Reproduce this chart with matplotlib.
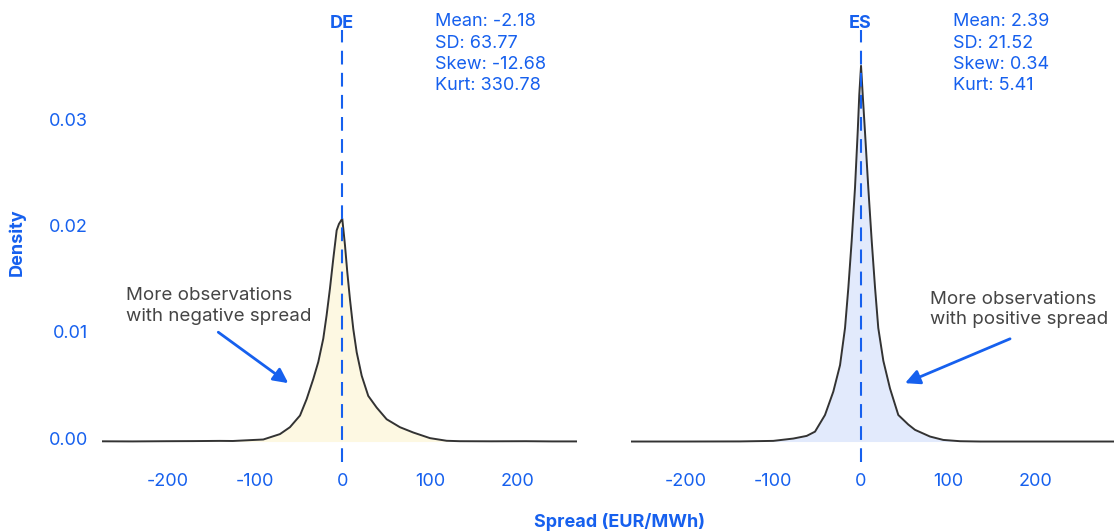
import matplotlib
matplotlib.use("Agg")
import matplotlib.pyplot as plt
import matplotlib.transforms as mtransforms

plt.rcParams['font.family'] = ['Inter', 'DejaVu Sans']

# ---------------- data ----------------
de_x = [-274.6, -240, -200, -170, -140, -125, -105.5, -90.3, -71.2, -59.8, -48.3, -40.7,
        -33.1, -27.4, -21.7, -17.9, -14.1, -10.3, -6.4, -3.8, 0.0, 3.1, 5.7, 8.8, 12.6,
        16.5, 22.2, 29.7, 39.3, 50.7, 65.9, 81.1, 100.2, 119.3, 134.5, 170, 210, 240, 267.7]
de_y = [0.00002, 0.00001, 0.00003, 0.00004, 0.00006, 0.00005, 0.00013, 0.00019, 0.0007,
        0.00135, 0.00245, 0.0040, 0.0059, 0.0075, 0.0097, 0.0119, 0.0144, 0.0172, 0.0199,
        0.0205, 0.0210, 0.0185, 0.0160, 0.0134, 0.0106, 0.0084, 0.0062, 0.0043, 0.0032,
        0.0021, 0.00135, 0.00085, 0.00032, 0.00007, 0.00003, 0.00002, 0.00003, 0.00001,
        0.00001]

es_x = [-262.3, -200, -137.7, -99.7, -76.8, -61.5, -52.0, -40.6, -31.1, -23.4, -17.7,
        -13.9, -10.1, -6.3, -3.2, -1.4, 0.6, 2.5, 5.1, 8.9, 12.8, 16.6, 20.3, 26.1, 33.7,
        43.2, 54.6, 62.3, 79.4, 94.6, 113.7, 137.0, 200, 289.7]
es_y = [0.0, 0.0, 0.00001, 0.00006, 0.00028, 0.00053, 0.00093, 0.0025, 0.0047, 0.0072,
        0.0107, 0.0145, 0.0189, 0.0239, 0.0292, 0.0327, 0.0354, 0.0327, 0.0292, 0.0239,
        0.0189, 0.0145, 0.0107, 0.0076, 0.0050, 0.0025, 0.0016, 0.0011, 0.00047, 0.00015,
        0.00003, 0.0, 0.0, 0.0]

countries = ['DE', 'ES']
stats = {
    'DE': ['Mean: -2.18', 'SD: 63.77', 'Skew: -12.68', 'Kurt: 330.78'],
    'ES': ['Mean: 2.39', 'SD: 21.52', 'Skew: 0.34', 'Kurt: 5.41'],
}
x_ticks = [-200, -100, 0, 100, 200]
x_tick_labels = ['-200', '-100', '0', '100', '200']
y_ticks = [0.00, 0.01, 0.02, 0.03]
y_tick_labels = ['0.00', '0.01', '0.02', '0.03']
annotations = {
    'DE': 'More observations\nwith negative spread',
    'ES': 'More observations\nwith positive spread',
}

# ---------------- style ----------------
BLUE = '#1660EE'
LINE = '#333333'
TEXT = '#454545'
FILLS = {'DE': '#FDF8E2', 'ES': '#E2EAFC'}
FS = 13

W, H = 1114, 531
fig = plt.figure(figsize=(W / 100, H / 100), dpi=100)

def fx(px):
    return px / W

def fy(py):
    return 1 - py / H

ax_top, ax_bot = 30, 462
axes_px = {'DE': (102, 576.5), 'ES': (631, 1114)}
xlims = {'DE': (-274.6, 267.7), 'ES': (-262.3, 289.7)}
ylim = (-0.00193, 0.03878)
curves = {'DE': (de_x, de_y), 'ES': (es_x, es_y)}

ann_pos = {
    'DE': dict(text=(-247.2, 0.01277), tail=(-141.7, 0.0103), tip=(-61.7, 0.0055)),
    'ES': dict(text=(79.4, 0.01244), tail=(170.9, 0.00968), tip=(50.9, 0.0055)),
}
stats_x = {'DE': 105.9, 'ES': 106.0}

for c in countries:
    l, r = axes_px[c]
    ax = fig.add_axes([fx(l), fy(ax_bot), fx(r - l), (ax_bot - ax_top) / H])
    xs, ys = curves[c]
    ax.fill_between(xs, 0, ys, color=FILLS[c], lw=0, zorder=1)
    ax.plot(xs, ys, color=LINE, lw=1.4, zorder=3, solid_joinstyle='round')
    ax.axvline(0, color=BLUE, lw=1.5, linestyle=(0, (6.6, 4.0)), zorder=4)
    ax.set_xlim(*xlims[c])
    ax.set_ylim(*ylim)
    for s in ax.spines.values():
        s.set_visible(False)
    ax.set_xticks(x_ticks)
    ax.set_xticklabels(x_tick_labels)
    ax.tick_params(axis='x', length=0, pad=8, labelsize=FS, labelcolor=BLUE)
    if c == 'DE':
        ax.set_yticks(y_ticks)
        ax.set_yticklabels(y_tick_labels)
        ax.tick_params(axis='y', length=0, pad=10.3, labelsize=FS, labelcolor=BLUE)
        up = mtransforms.ScaledTranslation(0, 3.5 / 100, fig.dpi_scale_trans)
        for lab in ax.get_yticklabels():
            lab.set_transform(lab.get_transform() + up)
    else:
        ax.set_yticks([])
    ax.patch.set_alpha(0)

    trans = mtransforms.blended_transform_factory(ax.transData, fig.transFigure)
    ax.text(0, fy(23.5), c, transform=trans, ha='center', va='center',
            fontsize=FS, fontweight='bold', color=BLUE)
    ax.text(stats_x[c], fy(13.5), '\n'.join(stats[c]), transform=trans, ha='left', va='top',
            fontsize=FS, color=BLUE, linespacing=1.33)

    p = ann_pos[c]
    ax.text(p['text'][0], p['text'][1], annotations[c], ha='left', va='center',
            fontsize=13.5, color=TEXT, linespacing=1.28)
    ax.annotate('', xy=p['tip'], xytext=p['tail'],
                arrowprops=dict(arrowstyle='-|>', color=BLUE, lw=2.0, mutation_scale=22,
                                shrinkA=0, shrinkB=0))

fig.text(fx(17.3), fy(241.7), 'Density', rotation=90, ha='center', va='center',
         fontsize=FS, fontweight='bold', color=BLUE)
fig.text(fx(620), fy(521.7), 'Spread (EUR/MWh)', ha='center', va='center',
         fontsize=FS, fontweight='bold', color=BLUE)

fig.savefig('out.png', dpi=100)
